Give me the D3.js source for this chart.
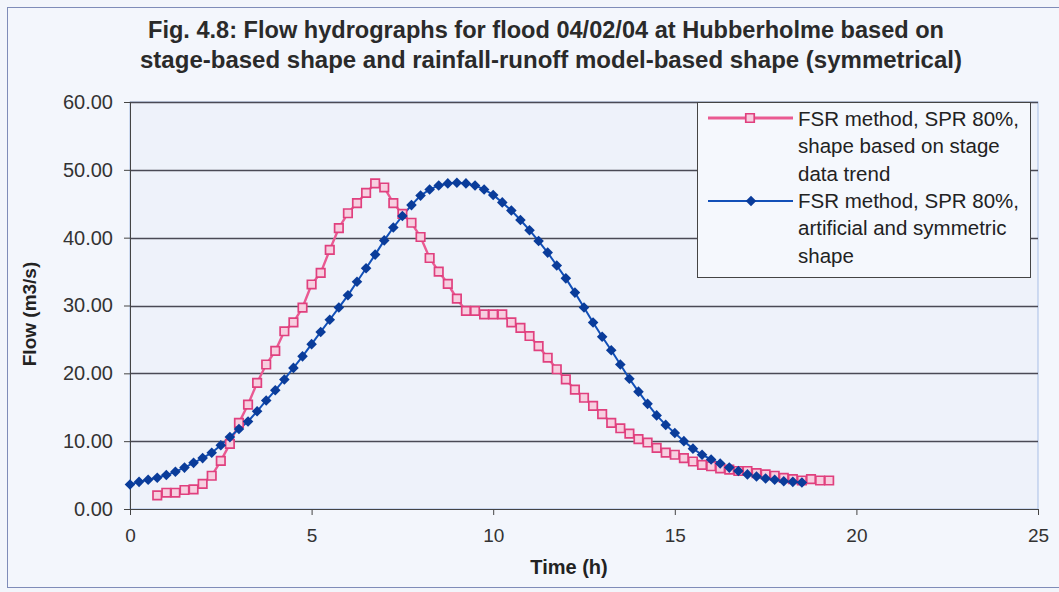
<!DOCTYPE html>
<html>
<head>
<meta charset="utf-8">
<script src="https://cdn.jsdelivr.net/npm/d3@7"></script>
<style>
  body { margin: 0; background: #f2f5fb; }
  svg { display: block; }
</style>
</head>
<body>
<script>
const width = 1059;
const height = 592;
const margin = {top: 102, left: 130, bottom: 83, right: 21};

const titleLines = [
  'Fig. 4.8: Flow hydrographs for flood 04/02/04 at Hubberholme based on',
  'stage-based shape and rainfall-runoff model-based shape (symmetrical)'
];
const xTicks = [0, 5, 10, 15, 20, 25];
const yTicks = [0, 10, 20, 30, 40, 50, 60];

// stage-based shape, every 0.25 h from 0.75 h
const stageStart = 0.75;
const stageFlow = [
  2.0, 2.4, 2.4, 2.8, 2.9, 3.7, 4.9, 7.1, 9.6, 12.7,
  15.4, 18.6, 21.3, 23.3, 26.2, 27.5, 29.7, 33.1, 34.8, 38.2,
  41.4, 43.6, 45.1, 46.6, 48.0, 47.4, 45.1, 43.5, 42.2, 40.1,
  37.0, 35.0, 33.2, 31.0, 29.2, 29.2, 28.7, 28.7, 28.7, 27.5,
  26.7, 25.5, 24.0, 22.3, 20.6, 19.1, 17.6, 16.4, 15.2, 14.0,
  12.7, 11.9, 11.1, 10.3, 9.8, 9.0, 8.3, 8.0, 7.5, 7.0,
  6.5, 6.3, 6.0, 5.8, 5.6, 5.6, 5.3, 5.1, 4.9, 4.6,
  4.4, 4.2, 4.4, 4.2, 4.2
];

// symmetric shape, every 0.25 h from 0 h
const symStart = 0;
const symFlow = [
  3.6, 4.0, 4.3, 4.6, 5.0, 5.5, 6.1, 6.8, 7.5, 8.3,
  9.4, 10.6, 11.8, 12.9, 14.4, 16.0, 17.5, 19.1, 20.8, 22.5,
  24.3, 26.1, 27.9, 29.7, 31.5, 33.5, 35.5, 37.5, 39.6, 41.5,
  43.2, 44.8, 46.2, 47.1, 47.7, 48.0, 48.1, 48.0, 47.7, 47.1,
  46.3, 45.2, 44.0, 42.6, 41.1, 39.5, 37.8, 35.9, 34.0, 31.9,
  29.7, 27.5, 25.4, 23.4, 21.3, 19.2, 17.3, 15.5, 13.8, 12.4,
  11.2, 10.0, 8.9, 8.0, 7.3, 6.7, 6.1, 5.6, 5.1, 4.8,
  4.5, 4.3, 4.1, 4.0, 3.9
];
const step = 0.25;

const seriesNames = [
  ['FSR method, SPR 80%,', 'shape based on stage', 'data trend'],
  ['FSR method, SPR 80%,', 'artificial and symmetric', 'shape']
];

const stageData = stageFlow.map((v, i) => ({t: stageStart + i * step, v}));
const symData = symFlow.map((v, i) => ({t: symStart + i * step, v}));

const x = d3.scaleLinear()
  .domain([0, 25])
  .range([margin.left, width - margin.right]);

const y = d3.scaleLinear()
  .domain([0, 60])
  .range([height - margin.bottom, margin.top]);

const svg = d3.select('body').append('svg')
  .attr('width', width).attr('height', height)
  .style('font-family', 'Liberation Sans, Arial, sans-serif');

// outer frame
svg.append('rect')
  .attr('x', 7.5).attr('y', 7.5)
  .attr('width', width - 6).attr('height', height - 12)
  .attr('fill', '#f3f6fc').attr('stroke', '#7f8cb8');

// plot area
svg.append('rect')
  .attr('x', x(0)).attr('y', y(60))
  .attr('width', x(25) - x(0)).attr('height', y(0) - y(60))
  .attr('fill', '#eef2fa').attr('stroke', '#a9bfe6');

// title
svg.append('g').selectAll('text').data(titleLines).enter().append('text')
  .attr('x', (d, i) => i ? 551 : 546)
  .attr('y', (d, i) => 38 + i * 30)
  .attr('text-anchor', 'middle')
  .attr('textLength', (d, i) => i ? 822 : 796)
  .attr('lengthAdjust', 'spacingAndGlyphs')
  .style('font-family', 'Liberation Sans Narrow, Arial Narrow, sans-serif')
  .style('font-weight', 'bold')
  .style('font-size', '23px')
  .attr('fill', '#2a2a2a')
  .text(d => d);

// gridlines
svg.append('g')
  .selectAll('line').data(yTicks.filter(d => d > 0)).enter().append('line')
  .attr('x1', x(0)).attr('x2', x(25))
  .attr('y1', d => Math.round(y(d)) + 0.5).attr('y2', d => Math.round(y(d)) + 0.5)
  .attr('stroke', '#4a4a55').attr('stroke-width', 1.3);

const xAxis = g => g
  .attr('transform', `translate(0, ${y(0)})`)
  .call(d3.axisBottom(x).tickValues(xTicks).tickSize(6).tickPadding(14).tickFormat(d3.format('d')))
  .call(g => g.selectAll('path, line').attr('stroke', '#444'))
  .call(g => g.selectAll('text').attr('fill', '#333').style('font-size', '19px'));

const yAxis = g => g
  .attr('transform', `translate(${x(0)}, 0)`)
  .call(d3.axisLeft(y).tickValues(yTicks).tickSize(6).tickPadding(11).tickFormat(d3.format('.2f')))
  .call(g => g.selectAll('path, line').attr('stroke', '#444'))
  .call(g => g.selectAll('text').attr('fill', '#333').style('font-size', '20px'));

svg.append('g').call(xAxis);
svg.append('g').call(yAxis);

// axis titles
svg.append('text')
  .attr('x', 569).attr('y', 574)
  .attr('text-anchor', 'middle')
  .style('font-weight', 'bold').style('font-size', '20px')
  .attr('fill', '#222')
  .text('Time (h)');

svg.append('text')
  .attr('transform', 'translate(36, 314) rotate(-90)')
  .attr('text-anchor', 'middle')
  .style('font-weight', 'bold').style('font-size', '19px')
  .attr('fill', '#222')
  .text('Flow (m3/s)');

const line = d3.line().x(d => x(d.t)).y(d => y(d.v));

// stage-based series
svg.append('path')
  .datum(stageData)
  .attr('fill', 'none').attr('stroke', '#ea5a92').attr('stroke-width', 2.4)
  .attr('d', line);

// symmetric series
svg.append('path')
  .datum(symData)
  .attr('fill', 'none').attr('stroke', '#1250b8').attr('stroke-width', 2)
  .attr('d', line);

const square = d3.symbol().type(d3.symbolSquare).size(72);
const diamond = d3.symbol().type(d3.symbolSquare).size(56);

svg.append('g')
  .selectAll('path').data(stageData).enter().append('path')
  .attr('transform', d => `translate(${x(d.t)}, ${y(d.v)})`)
  .attr('d', square)
  .attr('fill', '#f7cfe0').attr('stroke', '#e0407e').attr('stroke-width', 1.7);

svg.append('g')
  .selectAll('path').data(symData).enter().append('path')
  .attr('transform', d => `translate(${x(d.t)}, ${y(d.v)}) rotate(45)`)
  .attr('d', diamond)
  .attr('fill', '#0a3c9a');

// legend
const legend = svg.append('g');
legend.append('rect')
  .attr('x', 697.5).attr('y', 102.5)
  .attr('width', 333).attr('height', 175)
  .attr('fill', '#f5f8fd').attr('stroke', '#444');

const legendStyles = [
  {color: '#ea5a92', width: 2.8, y: 118},
  {color: '#1250b8', width: 1.8, y: 201}
];
legendStyles.forEach((s, i) => {
  legend.append('line')
    .attr('x1', 708).attr('x2', 793)
    .attr('y1', s.y).attr('y2', s.y)
    .attr('stroke', s.color).attr('stroke-width', s.width);
  if (i === 0) {
    legend.append('path')
      .attr('transform', `translate(750, ${s.y})`)
      .attr('d', square)
      .attr('fill', '#f7cfe0').attr('stroke', '#e0407e').attr('stroke-width', 1.7);
  } else {
    legend.append('path')
      .attr('transform', `translate(751, ${s.y}) rotate(45)`)
      .attr('d', diamond)
      .attr('fill', '#0a3c9a');
  }
  legend.append('g').selectAll('text').data(seriesNames[i]).enter().append('text')
    .attr('x', 798)
    .attr('y', (d, j) => 126 + i * 82 + j * 27.3)
    .attr('fill', '#222')
    .style('font-size', '20.5px')
    .text(d => d);
});
</script>
</body>
</html>
